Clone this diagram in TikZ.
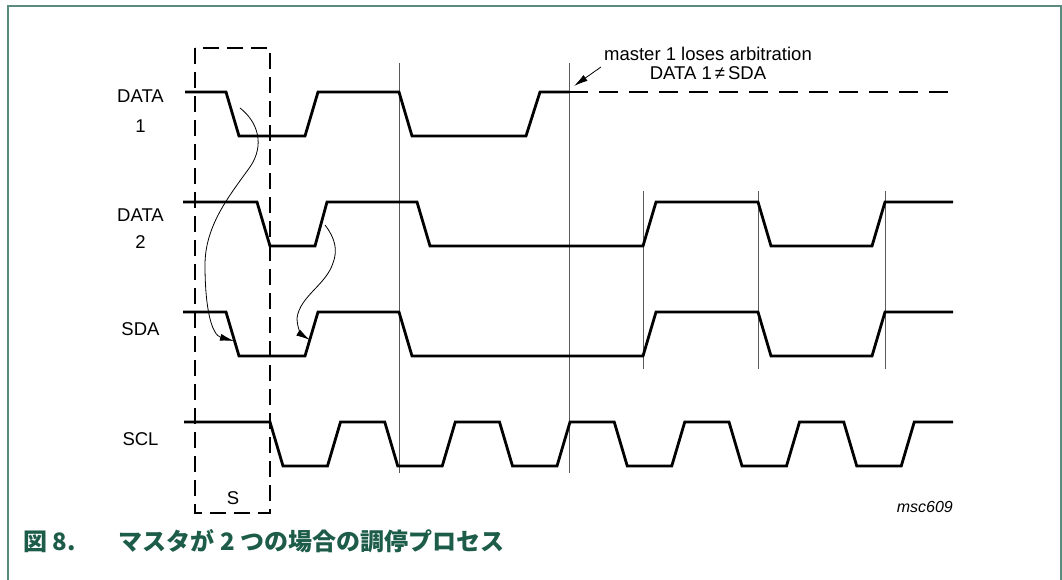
\documentclass[tikz,border=0pt]{standalone}
\usepackage{fontspec}
\setmainfont{Liberation Sans}
\newfontfamily\cjk{Noto Sans CJK JP}
\usetikzlibrary{arrows.meta}
\definecolor{framegreen}{HTML}{5B8A7F}
\definecolor{capgreen}{HTML}{1D5C48}
\tikzset{
  sig/.style={line width=2.8pt},
  mark line/.style={line width=1pt,black!65},
  lbl/.style={font=\fontsize{18.5}{20}\selectfont,anchor=base,inner sep=0pt},
  hint/.style={line width=0.8pt,-{Latex[length=14pt,width=7pt]}}
}
\begin{document}
\begin{tikzpicture}[x=1pt,y=-1pt]
\useasboundingbox (0,0) rectangle (1062,580);
\draw[framegreen,line width=2pt] (8,580) -- (8,6.5) -- (1061,6.5) -- (1061,580);

\draw[mark line] (399,63) -- (399,473);
\draw[mark line] (569,63) -- (569,473);
\foreach \x in {643,758,885}
  \draw[mark line] (\x,191) -- (\x,369);

\draw[line width=1.6pt,dash pattern=on 16pt off 8pt] (195,48) rectangle (270,513);

\draw[sig] (185,92) -- (226,92) -- (239,136) -- (305,136) -- (318,92) -- (399,92)
  -- (412,136) -- (526,136) -- (540,92) -- (569,92);
\draw[sig,dash pattern=on 19pt off 11pt] (569,92) -- (950,92);
\draw[sig] (183,202) -- (257,202) -- (270,246) -- (315,246) -- (327,202) -- (417,202)
  -- (430,246) -- (643,246) -- (656,202) -- (758,202) -- (771,246) -- (872,246)
  -- (885,202) -- (953,202);
\draw[sig] (183,312) -- (226,312) -- (239,356) -- (305,356) -- (318,312) -- (399,312)
  -- (412,356) -- (643,356) -- (656,312) -- (758,312) -- (771,356) -- (872,356)
  -- (885,312) -- (953,312);
\draw[sig] (184,422) foreach \k in {0,...,5} {
  -- ({270+114.75*\k},422) -- ++(13,44) -- ++(44.5,0) -- ++(13,-44) } -- (953,422);

\node[lbl] (data1) at (140.5,103) {DATA};
\node[lbl] (data1n) at (140.5,133) {1};
\node[lbl] (data2) at (140.5,221) {DATA};
\node[lbl] (data2n) at (140.5,248) {2};
\node[lbl] (sda) at (140.5,335) {SDA};
\node[lbl] (scl) at (140.5,445) {SCL};
\node[lbl] (start) at (233,504) {S};
\node[lbl] (lose1) at (708,61) {master 1 loses arbitration};
\node[lbl] (lose2) at (708,80) {DATA 1\,≠\,SDA};
\node[font=\fontsize{16}{18}\selectfont\itshape,anchor=base east,inner sep=0pt] (fig) at (953,512) {msc609};

\coordinate (d1edge) at (240,108);
\coordinate (sdafall) at (234,341);
\coordinate (d2edge) at (325,225);
\coordinate (sdarise) at (310,340);
\coordinate (lost) at (574,86);
\coordinate (losetail) at (601,67);

\draw[hint] (d1edge) .. controls (258,122) and (265,145) .. (250,167)
  .. controls (230,195) and (205,225) .. (205,265)
  .. controls (205,310) and (212,335) .. (sdafall);
\draw[hint] (d2edge) .. controls (335,238) and (338,250) .. (333,263)
  .. controls (326,285) and (300,296) .. (297,318)
  .. controls (297,328) and (302,335) .. (sdarise);
\draw[hint] (losetail) -- (lost);

\node[font=\cjk\bfseries\fontsize{24}{26}\selectfont,text=capgreen,anchor=base west,inner sep=0pt] (cap) at (23,550) {図 8.\hspace{43pt}マスタが 2 つの場合の調停プロセス};
\end{tikzpicture}
\end{document}
